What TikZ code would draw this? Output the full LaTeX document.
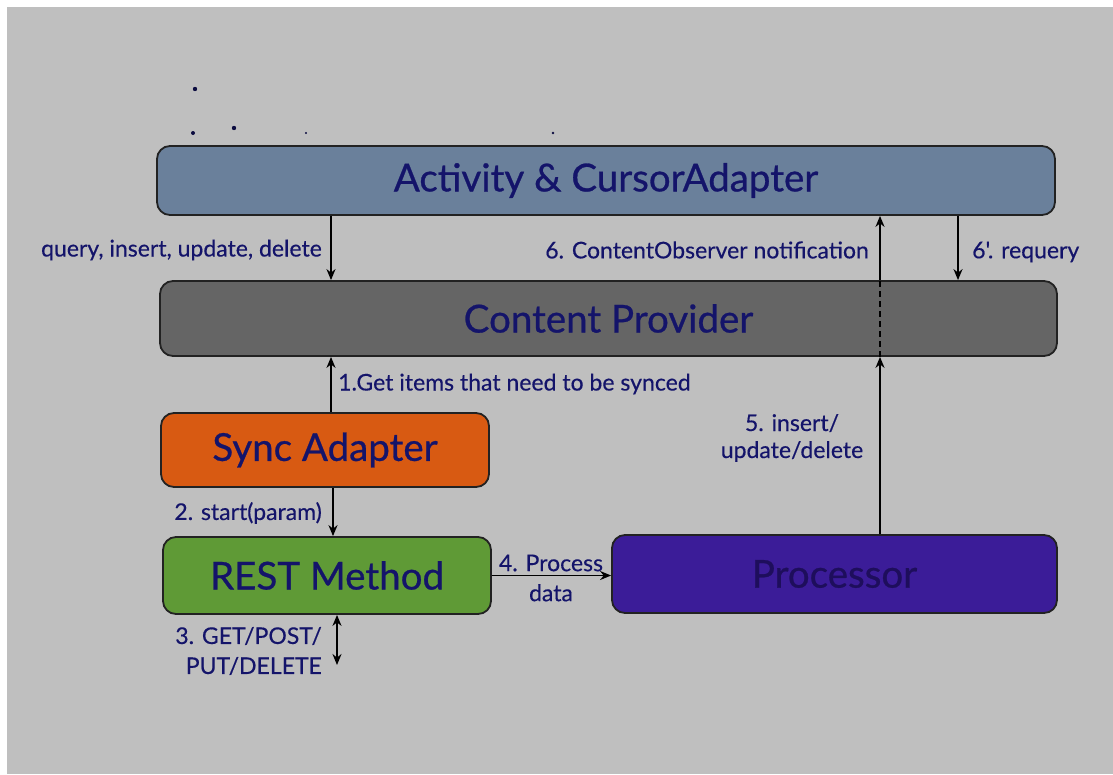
\documentclass[tikz,border=0pt]{standalone}
\usepackage{fontspec}
\setmainfont{Lato}
\newfontfamily\titlefont{Lato}[FakeBold=0.7]
\newfontfamily\labelfont{Lato}[FakeBold=0.35]
\usetikzlibrary{arrows.meta}
\definecolor{bg}{HTML}{BFBFBF}
\definecolor{navy}{HTML}{14146A}
\definecolor{actfill}{HTML}{6A809B}
\definecolor{cpfill}{HTML}{656565}
\definecolor{syncfill}{HTML}{D85A12}
\definecolor{restfill}{HTML}{5F9A36}
\definecolor{procfill}{HTML}{3B1C98}
\definecolor{proctext}{HTML}{1E0E5C}
\definecolor{edge}{HTML}{222222}
\tikzset{
  box/.style={draw=edge, line width=1.8pt, rounded corners=13pt, inner sep=0pt, text=navy, font=\titlefont\fontsize{38.5}{42}\selectfont},
  lbl/.style={text=navy, font=\labelfont\fontsize{23}{27}\selectfont, inner sep=0pt},
  arr/.style={line width=1.8pt, draw=black, -{Stealth[length=11pt,width=9pt]}},
  dotmark/.style={fill=navy!60!black}
}
\begin{document}
\begin{tikzpicture}[x=1pt,y=-1pt]
\useasboundingbox (0,0) rectangle (1113,774);
\fill[white] (0,0) rectangle (1113,774);
\fill[bg] (7,7) rectangle (1113,774);
% stray dots
\fill[dotmark] (195,89) circle (2.2pt);
\fill[dotmark] (193,133) circle (2pt);
\fill[dotmark] (234,128) circle (2.2pt);
\fill[dotmark] (306,133) circle (1.2pt);
\fill[dotmark] (553,133) circle (1.3pt);
% boxes
\node[box, fill=actfill, minimum width=898pt, minimum height=69pt] (act) at (606,180.5) {Activity \& CursorAdapter};
\node[box, fill=cpfill, minimum width=897pt, minimum height=75pt] (cp) at (608.5,318.5) {Content Provider};
\node[box, fill=syncfill, minimum width=328pt, minimum height=74pt] (sync) at (325,450) {Sync Adapter};
\node[box, fill=restfill, minimum width=328pt, minimum height=77pt] (rest) at (327,575.5) {REST Method};
\node[box, fill=procfill, text=proctext, minimum width=445pt, minimum height=78pt] (proc) at (834.5,574) {Processor};
% columns
\coordinate (c1) at (331,0);
\coordinate (c2) at (880,0);
\coordinate (c3) at (958,0);
\coordinate (c4) at (337,0);
\coordinate (c5) at (333,0);
\coordinate (rdown) at (337,665);
% connectors
\draw[arr] (act.south -| c1) -- (cp.north -| c1);
\draw[arr] (sync.north -| c1) -- (cp.south -| c1);
\draw[arr] (sync.south -| c5) -- (rest.north -| c5);
\draw[line width=1.8pt, {Stealth[length=11pt,width=9pt]}-{Stealth[length=11pt,width=9pt]}] (rest.south -| c4) -- (rdown);
\draw[arr] (rest.east) -- (proc.west |- rest.east);
\draw[arr] (proc.north -| c2) -- (cp.south -| c2);
\draw[line width=1.8pt, dash pattern=on 6pt off 4pt] (cp.south -| c2) -- (cp.north -| c2);
\draw[arr] (cp.north -| c2) -- (act.south -| c2);
\draw[arr] (act.south -| c3) -- (cp.north -| c3);
% labels
\node[lbl, anchor=east] (lq) at (322,250) {query, insert, update, delete};
\node[lbl, anchor=east] (l6) at (869,250) {6. ContentObserver notification};
\node[lbl, anchor=west] (l6p) at (972,252) {6'. requery};
\node[lbl, anchor=west] (l1) at (338,384) {1.Get items that need to be synced};
\node[lbl, anchor=east] (l2) at (322,513) {2. start(param)};
\node[lbl, align=right, anchor=east] (l3) at (322,651) {3. GET/POST/\\[3pt]PUT/DELETE};
\node[lbl, align=center] (l4) at (551,578) {4. Process\\[3pt]data};
\node[lbl, align=center] (l5) at (792,438) {5. insert/\\update/delete};
\end{tikzpicture}
\end{document}
